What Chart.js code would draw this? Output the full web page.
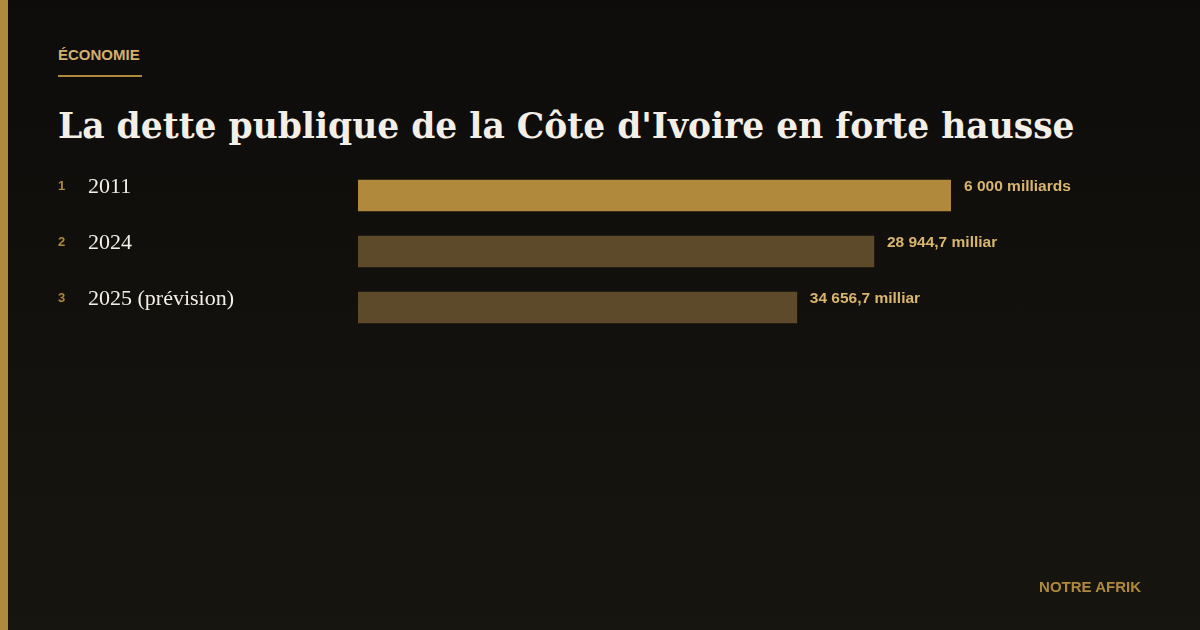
<!DOCTYPE html>
<html lang="fr">
<head>
<meta charset="utf-8">
<script src="https://cdn.jsdelivr.net/npm/chart.js@4.4.1/dist/chart.umd.min.js"></script>
<style>
  html, body { margin: 0; padding: 0; }
  body {
    width: 1200px; height: 630px; overflow: hidden; position: relative;
    background: linear-gradient(180deg, #0d0c0b 0%, #17150f 100%);
  }
  .stripe { position: absolute; left: 0; top: 0; width: 8px; height: 630px; background: #b08a3c; }
  .kicker {
    position: absolute; left: 58px; top: 46px;
    font: bold 15px "Liberation Sans", Arial, sans-serif; color: #d4b06a;
  }
  .rule { position: absolute; left: 58px; top: 75px; width: 84px; height: 2px; background: #b08a3c; }
  h1 {
    position: absolute; left: 58px; top: 106px; margin: 0;
    font: bold 38px "DejaVu Serif", Georgia, serif; color: #f3efe6; white-space: nowrap;
  }
  .footer {
    position: absolute; right: 59px; top: 578px;
    font: bold 15px "Liberation Sans", Arial, sans-serif; color: #b0883c;
  }
  #wrap { position: absolute; left: 0; top: 0; width: 1200px; height: 630px; }
</style>
</head>
<body>
<div class="stripe"></div>
<div class="kicker">ÉCONOMIE</div>
<div class="rule"></div>
<h1 id="title">La dette publique de la Côte d'Ivoire en forte hausse</h1>
<div id="wrap"><canvas id="chart"></canvas></div>
<div class="footer">NOTRE AFRIK</div>

<script>
  /* Data
  -----------------------------------------------*/
  const categories = ['2011', '2024', '2025 (prévision)'];
  const ranks = ['1', '2', '3'];
  // bar length as drawn in the picture (share of the longest bar, %)
  const barLengths = [100, 87, 74];
  const valueLabels = ['6 000 milliards', '28 944,7 milliar', '34 656,7 milliar'];
  const barColors = ['#b0893c', '#5c4a2a', '#5c4a2a'];

  // shrink title to its width in the picture
  const title = document.getElementById('title');
  let fs = 38;
  while (title.getBoundingClientRect().width > 1022 && fs > 20) {
    fs -= 0.25;
    title.style.fontSize = fs + 'px';
  }

  /* Labels plugin: ranks, categories, values
  -----------------------------------------------*/
  const rowLabels = {
    id: 'rowLabels',
    afterDatasetsDraw(chart) {
      const ctx = chart.ctx;
      const meta = chart.getDatasetMeta(0);
      ctx.save();
      ctx.textBaseline = 'alphabetic';
      meta.data.forEach(function (bar, i) {
        const top = bar.y - bar.height / 2;
        ctx.textAlign = 'left';
        ctx.fillStyle = '#b0883c';
        ctx.font = 'bold 13px "Liberation Sans", Arial, sans-serif';
        ctx.fillText(ranks[i], 58, top + 10);
        ctx.fillStyle = '#f3efe6';
        ctx.font = '22px "Liberation Serif", Georgia, serif';
        ctx.fillText(categories[i], 88, top + 13);
        ctx.fillStyle = '#d9b56e';
        ctx.font = 'bold 15.5px "Liberation Sans", Arial, sans-serif';
        ctx.fillText(valueLabels[i], bar.x + 13, top + 11);
      });
      ctx.restore();
    }
  };

  function drawChart() {
    let ctx = document.getElementById('chart').getContext('2d');
    new Chart(ctx, {
      type: 'bar',
      data: {
        labels: categories,
        datasets: [{
          data: barLengths,
          backgroundColor: barColors,
          borderWidth: 0,
          barThickness: 31
        }]
      },
      options: {
        indexAxis: 'y',
        responsive: true,
        maintainAspectRatio: false,
        animation: false,
        layout: { padding: { left: 358, right: 249, top: 167.5, bottom: 294.5 } },
        scales: {
          x: { display: false, min: 0, max: 100 },
          y: { display: false }
        },
        plugins: { legend: { display: false }, tooltip: { enabled: false } }
      },
      plugins: [rowLabels]
    });
  }
  drawChart();
</script>
</body>
</html>
